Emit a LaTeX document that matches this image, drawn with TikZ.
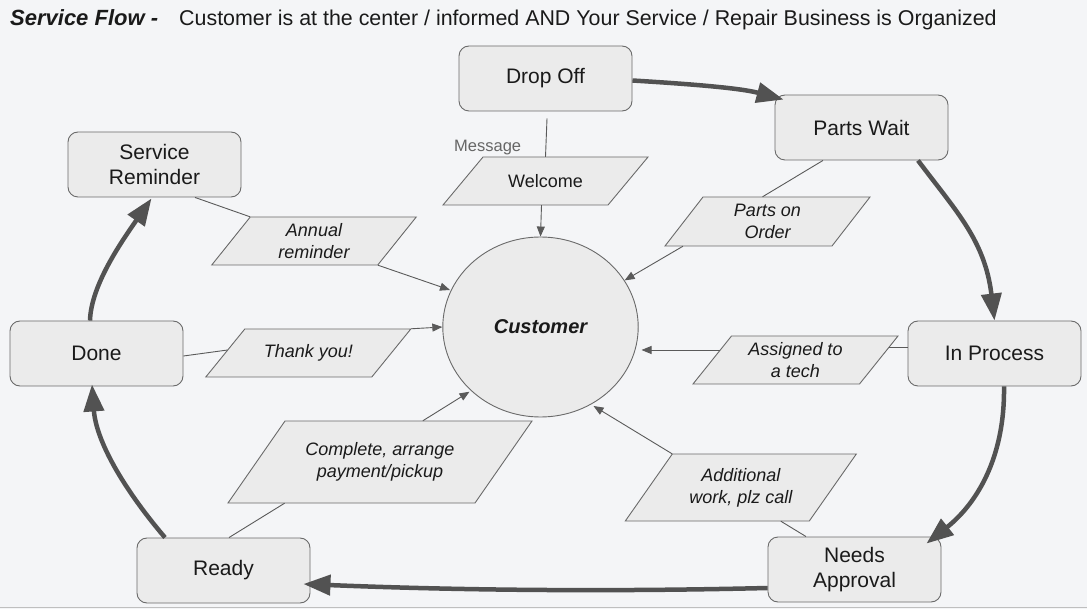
\documentclass[tikz,border=0pt]{standalone}
\usepackage{fontspec}
\setmainfont{Liberation Sans}
\usetikzlibrary{arrows.meta,calc,shapes.geometric}
\definecolor{bgc}{HTML}{F4F5F7}
\definecolor{boxfill}{HTML}{EBEBEB}
\definecolor{boxline}{HTML}{6A6A6A}
\definecolor{flow}{HTML}{525252}
\definecolor{conn}{HTML}{5A5A5A}
\definecolor{msg}{HTML}{666666}
\definecolor{ink}{HTML}{1A1A1A}
\tikzset{
  stage/.style={draw=boxline, fill=boxfill, line width=0.9pt, rounded corners=10pt,
    minimum width=173pt, minimum height=65pt, inner sep=0pt, align=center, text=ink,
    font=\fontsize{21}{25.7}\selectfont},
  hub/.style={ellipse, draw=boxline, fill=boxfill, line width=0.9pt,
    minimum width=195.4pt, minimum height=180pt, inner sep=0pt, text=ink,
    font=\fontsize{20}{24}\selectfont\bfseries\itshape},
  pshape/.style={draw=boxline, fill=boxfill, line width=0.9pt},
  plabel/.style={inner sep=0pt, align=center, text=ink,
    font=\fontsize{18}{22}\selectfont\itshape},
  flowarrow/.style={draw=flow, line width=4.5pt, -{Triangle[length=27pt,width=20pt]}},
  link/.style={draw=conn, line width=0.9pt},
  linkarrow/.style={draw=conn, line width=0.9pt, -{Triangle[length=10pt,width=8pt]}},
}
\newcommand{\pgram}[7]{%
  \path[pshape] ({#2-#4/2-#6/2},{#3-#5/2}) -- ({#2+#4/2-#6/2},{#3-#5/2})
    -- ({#2+#4/2+#6/2},{#3+#5/2}) -- ({#2-#4/2+#6/2},{#3+#5/2}) -- cycle;
  \node[plabel, minimum width=#4pt, minimum height=#5pt] (#1) at (#2,#3) {#7};}
\begin{document}
\begin{tikzpicture}[x=1pt,y=1pt]
\useasboundingbox (0,0) rectangle (1087,-609);
\fill[bgc] (0,0) rectangle (1087,-609);
\draw[color=black!25, line width=1.5pt] (0,-607.5) -- (1087,-607.5);

% title
\node[anchor=base west, inner sep=0pt, text=ink, font=\fontsize{22}{26}\selectfont\bfseries\itshape] (ttl) at (10,-26) {Service Flow -};
\node[anchor=base west, inner sep=0pt, text=ink, font=\fontsize{21.4}{26}\selectfont] (sub) at (179,-26) {Customer is at the center / informed AND Your Service / Repair Business is Organized};

% stages
\node[stage] (do) at (545.5,-78.5) {Drop Off};
\node[stage] (pw) at (861.5,-127.5) {Parts Wait};
\node[stage] (ip) at (994.5,-353.5) {In Process};
\node[stage] (na) at (854.5,-569.5) {Needs\\Approval};
\node[stage] (rd) at (223.5,-570.5) {Ready};
\node[stage] (dn) at (96.5,-353.5) {Done};
\node[stage] (sr) at (154.5,-164.5) {Service\\Reminder};

% customer hub
\node[hub] (cu) at (540.5,-327) {Customer};

% messages
\pgram{wel}{545.5}{-181}{165}{48}{40}{\upshape Welcome}
\pgram{poo}{767.5}{-221.5}{167}{49}{38}{Parts on\\Order}
\pgram{atc}{795.5}{-360}{166.5}{48}{38.5}{Assigned to\\a tech}
\pgram{ann}{314}{-241}{166}{48}{38.5}{Annual\\reminder}
\pgram{ty}{308.3}{-353}{166}{48}{39}{Thank you!}
\pgram{cmp}{380}{-462}{247}{82}{57}{Complete, arrange\\payment/pickup}
\pgram{add}{740.8}{-487.5}{184}{67}{47}{Additional\\work, plz call}

\node[anchor=base west, inner sep=0pt, text=msg, font=\fontsize{16.5}{20}\selectfont] (msg) at (454,-152) {Message};

% thin connectors
\draw[link] ([xshift=1.5pt,yshift=-7pt]do.south) -- (wel.north);
\draw[linkarrow] ([xshift=-4pt]wel.south) -- (cu.north);
\draw[link] ([xshift=-38.5pt]pw.south) -- ([xshift=-5pt]poo.north);
\draw[linkarrow] ([xshift=-84.5pt]poo.south) -- (cu.29);
\draw[link] ([yshift=6.5pt]ip.west) -- ([xshift=10.5pt,yshift=13pt]atc.east);
\draw[linkarrow] ([xshift=8pt,yshift=10pt]atc.west) -- ([xshift=101pt,yshift=-23pt]cu.center);
\draw[link] ([xshift=-48.5pt]na.north) -- ([xshift=40pt]add.south);
\draw[linkarrow] ([xshift=23.5pt]add.north west) -- ([xshift=53pt,yshift=-79pt]cu.center);
\draw[link] ([xshift=5.5pt]rd.north) -- ([xshift=-95.4pt]cmp.south);
\draw[linkarrow] ([xshift=42.8pt]cmp.north) -- ([xshift=-71pt,yshift=-64.7pt]cu.center);
\draw[link] ([yshift=-2.5pt]dn.east) -- ([xshift=2.5pt,yshift=3pt]ty.west);
\draw[linkarrow] ([xshift=19.5pt]ty.north east) -- (cu.west);
\draw[link] ([xshift=40.5pt]sr.south) -- ([xshift=19.25pt]ann.north west);
\draw[linkarrow] ([xshift=-19.25pt]ann.south east) -- ([xshift=-90.5pt,yshift=37pt]cu.center);

% main flow
\draw[flowarrow] ([yshift=-2pt]do.east) .. controls (690,-84) and (740,-88) .. ([xshift=9pt,yshift=-5pt]pw.north west);
\draw[flowarrow] ([xshift=56.5pt]pw.south) .. controls (955,-210) and (985,-240) .. (ip.north);
\draw[flowarrow] ([xshift=9.5pt]ip.south) .. controls (1005,-460) and (975,-505) .. ([xshift=-15pt,yshift=-7pt]na.north east);
\draw[flowarrow] ([yshift=-18.5pt]na.west) .. controls (600,-592) and (450,-590) .. ([xshift=-7pt,yshift=-13.5pt]rd.east);
\draw[flowarrow] ([xshift=-58.5pt]rd.north) .. controls (122,-487) and (96,-440) .. ([xshift=-4.5pt,yshift=2pt]dn.south);
\draw[flowarrow] ([xshift=-6.5pt]dn.north) .. controls (91,-285) and (122,-241) .. ([xshift=-3pt,yshift=-1pt]sr.south);
\end{tikzpicture}
\end{document}
